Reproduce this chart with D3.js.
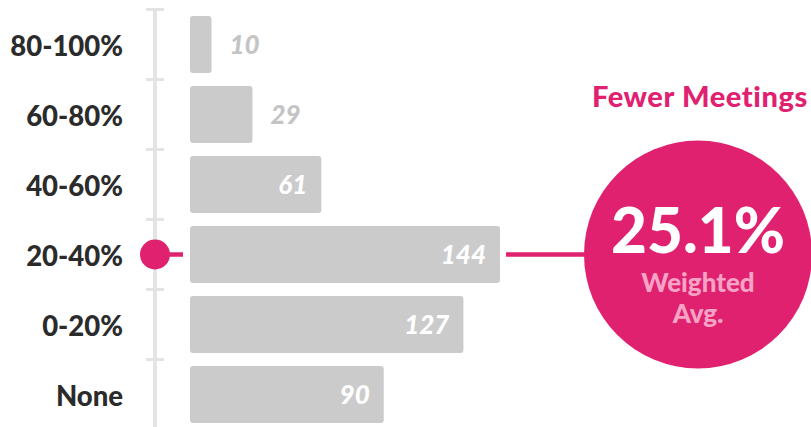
<!DOCTYPE html>
<html><head><meta charset="utf-8">
<script src="https://cdn.jsdelivr.net/npm/d3@7"></script>
<style>html,body{margin:0;padding:0;background:#fff;}svg{display:block;font-family:Lato,"Open Sans",sans-serif;}</style>
</head><body>
<svg id="c" width="811" height="427"></svg>
<script>
const categories = ["80-100%","60-80%","40-60%","20-40%","0-20%","None"];
const counts = [10,29,61,144,127,90];
const highlightCategory = "20-40%";
const avgLabel = "25.1%";
const avgSubLabel = ["Weighted","Avg."];
const title = "Fewer Meetings";

const pink = "#e0216f";
const svg = d3.select("#c");

const y = d3.scaleBand().domain(categories).range([9.5, 429.5]).paddingInner(0.186).paddingOuter(0.093);
const x = d3.scaleLinear().domain([0, 144]).range([190, 500]);

// axis line
const axisX = 155;
svg.append("line").attr("x1",axisX).attr("x2",axisX).attr("y1",9).attr("y2",427)
  .attr("stroke","#e4e4e4").attr("stroke-width",4);
const tickYs = categories.map(c => y(c) - y.step()*y.paddingInner()/2);
tickYs.push(y(categories[categories.length-1]) + y.bandwidth() + y.step()*y.paddingInner()/2);
svg.selectAll("line.tick").data(tickYs).join("line").attr("class","tick")
  .attr("x1",axisX-9).attr("x2",axisX+9).attr("y1",d=>d).attr("y2",d=>d)
  .attr("stroke","#e4e4e4").attr("stroke-width",3);

// category labels
svg.selectAll("text.cat").data(categories).join("text").attr("class","cat")
  .attr("x",123).attr("y",c=>y(c)+y.bandwidth()/2).attr("dy","0.4em")
  .attr("text-anchor","end").attr("font-weight",900).attr("font-size",27.5).attr("fill","#2b2b2b")
  .text(d=>d);

const data = categories.map((c,i)=>({c, v:counts[i]}));
// bars
svg.selectAll("rect.bar").data(data).join("rect").attr("class","bar")
  .attr("x",x(0)).attr("y",d=>y(d.c)).attr("width",d=>x(d.v)-x(0)).attr("height",y.bandwidth())
  .attr("rx",3).attr("fill","#cbcbcb");

// value labels
svg.selectAll("text.val").data(data).join("text").attr("class","val")
  .attr("x",d=> d.v < 40 ? x(d.v)+18 : x(d.v)-14)
  .attr("y",d=>y(d.c)+y.bandwidth()/2).attr("dy","0.38em")
  .attr("text-anchor",d=> d.v < 40 ? "start" : "end")
  .attr("font-weight",900).attr("font-style","italic").attr("font-size",26)
  .attr("fill",d=> d.v < 40 ? "#c4c4c4" : "#ffffff")
  .text(d=>d.v);

// highlight
const hi = data.find(d=>d.c===highlightCategory);
const hy = y(hi.c)+y.bandwidth()/2;
svg.append("line").attr("x1",axisX).attr("x2",183).attr("y1",hy).attr("y2",hy)
  .attr("stroke",pink).attr("stroke-width",4.5);
svg.append("circle").attr("cx",axisX).attr("cy",hy).attr("r",15).attr("fill",pink);

const cx = 698, r = 114;
svg.append("line").attr("x1",x(hi.v)+6).attr("x2",cx-r+2).attr("y1",hy).attr("y2",hy)
  .attr("stroke",pink).attr("stroke-width",4.5);
svg.append("circle").attr("cx",cx).attr("cy",hy).attr("r",r).attr("fill",pink);

svg.append("text").attr("x",cx).attr("y",hy-2).attr("text-anchor","middle")
  .attr("font-weight",900).attr("font-size",62).attr("fill","#fff").text(avgLabel);
svg.selectAll("text.sub").data(avgSubLabel).join("text").attr("class","sub")
  .attr("x",cx).attr("y",(d,i)=>hy+37+i*31).attr("text-anchor","middle")
  .attr("font-weight",900).attr("font-size",26).attr("fill","#f6a3c6").text(d=>d);

svg.append("text").attr("x",808).attr("y",107).attr("text-anchor","end")
  .attr("font-weight",900).attr("font-size",29).attr("letter-spacing",0.6).attr("fill",pink).text(title);
</script>
</body></html>
